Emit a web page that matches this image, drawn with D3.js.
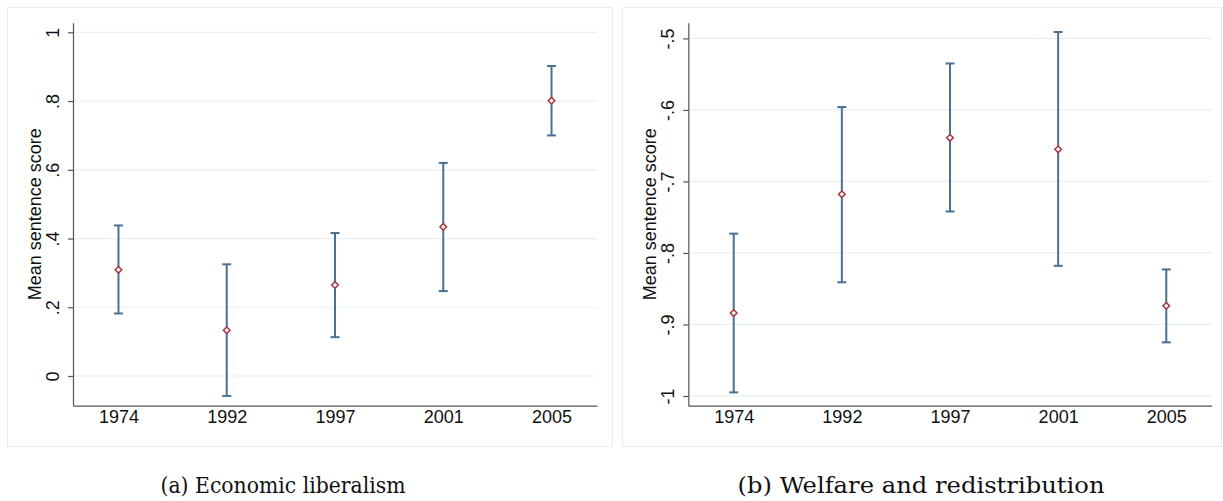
<!DOCTYPE html>
<html>
<head>
<meta charset="utf-8">
<script src="https://cdn.jsdelivr.net/npm/d3@7"></script>
<style>
  body { margin: 0; background: #fff; }
  svg { display: block; }
</style>
</head>
<body>
<script>
// categories and values
var years = ["1974", "1992", "1997", "2001", "2005"];

var econMean = [0.309, 0.133, 0.265, 0.434, 0.801];
var econLow  = [0.182, -0.058, 0.113, 0.247, 0.700];
var econHigh = [0.438, 0.325, 0.416, 0.620, 0.902];
var econTicks = [0, 0.2, 0.4, 0.6, 0.8, 1];
var econLabels = ["0", ".2", ".4", ".6", ".8", "1"];

var welfMean = [-0.884, -0.718, -0.639, -0.655, -0.874];
var welfLow  = [-0.995, -0.841, -0.742, -0.818, -0.925];
var welfHigh = [-0.773, -0.596, -0.535, -0.491, -0.823];
var welfTicks = [-1, -0.9, -0.8, -0.7, -0.6, -0.5];
var welfLabels = ["-1", "-.9", "-.8", "-.7", "-.6", "-.5"];

var captions = ["(a)  Economic liberalism", "(b)  Welfare and redistribution"];

var W = 1223, H = 501;
var barColor = "#4a7095";
var markColor = "#a33a42";
var gridColor = "#e9f0f2";
var sans = "Liberation Sans, Arial, sans-serif";

var svg = d3.select("body").append("svg")
    .attr("width", W)
    .attr("height", H);

function panel(opt) {
    var g = svg.append("g");

    // light outer frame
    g.append("rect")
        .attr("x", opt.box[0] + 0.5)
        .attr("y", 7.5)
        .attr("width", opt.box[1] - opt.box[0])
        .attr("height", 439)
        .attr("fill", "none")
        .attr("stroke", "#e6eef0")
        .attr("stroke-width", 1);

    var x = d3.scaleLinear()
        .domain([0.58, 5.42])
        .range([opt.left, opt.right]);
    var y = d3.scaleLinear()
        .domain(opt.ydom)
        .range([405.7, 22.7]);

    // gridlines
    g.selectAll(".grid")
        .data(opt.ticks)
        .enter()
        .append("line")
        .attr("x1", opt.left)
        .attr("x2", opt.right)
        .attr("y1", d => y(d))
        .attr("y2", d => y(d))
        .attr("stroke", gridColor)
        .attr("stroke-width", 1.2);

    // y axis
    var ya = g.append("g")
        .attr("transform", "translate(" + opt.left + ",0)")
        .call(d3.axisLeft(y).tickValues(opt.ticks).tickFormat((d, i) => opt.labels[i]).tickSize(5).tickSizeOuter(0));
    ya.select(".domain").attr("stroke", "#555").attr("stroke-width", 1.2);
    ya.selectAll(".tick line").attr("stroke", "#555").attr("stroke-width", 1.2);
    ya.selectAll(".tick text")
        .attr("x", 0).attr("dy", 0)
        .attr("transform", "translate(-20,0) rotate(-90)")
        .attr("text-anchor", "middle")
        .attr("dominant-baseline", "central")
        .style("font-family", sans)
        .style("font-size", "18px")
        .attr("fill", "#111");

    // x axis, labels only
    var xa = g.append("g")
        .attr("transform", "translate(0,405.7)")
        .call(d3.axisBottom(x).tickValues([1, 2, 3, 4, 5]).tickFormat((d, i) => years[i]).tickSize(0).tickSizeOuter(0));
    xa.select(".domain").attr("stroke", "#555").attr("stroke-width", 1.2);
    xa.selectAll(".tick text")
        .attr("y", 5)
        .attr("dy", "0.71em")
        .style("font-family", sans)
        .style("font-size", "18px")
        .attr("fill", "#111");

    // axis title
    g.append("text")
        .attr("transform", "translate(" + (opt.left - 38) + "," + y((opt.ydom[0] + opt.ydom[1]) / 2) + ") rotate(-90)")
        .attr("text-anchor", "middle")
        .attr("dominant-baseline", "central")
        .style("font-family", sans)
        .style("font-size", "18px")
        .attr("fill", "#111")
        .text("Mean sentence score");

    // error bars
    var eb = g.selectAll(".eb")
        .data(years)
        .enter()
        .append("g");
    eb.append("line")
        .attr("x1", (d, i) => x(i + 1))
        .attr("x2", (d, i) => x(i + 1))
        .attr("y1", (d, i) => y(opt.low[i]))
        .attr("y2", (d, i) => y(opt.high[i]))
        .attr("stroke", barColor)
        .attr("stroke-width", 2);
    eb.append("line")
        .attr("x1", (d, i) => x(i + 1) - 4.5)
        .attr("x2", (d, i) => x(i + 1) + 4.5)
        .attr("y1", (d, i) => y(opt.low[i]))
        .attr("y2", (d, i) => y(opt.low[i]))
        .attr("stroke", barColor)
        .attr("stroke-width", 2);
    eb.append("line")
        .attr("x1", (d, i) => x(i + 1) - 4.5)
        .attr("x2", (d, i) => x(i + 1) + 4.5)
        .attr("y1", (d, i) => y(opt.high[i]))
        .attr("y2", (d, i) => y(opt.high[i]))
        .attr("stroke", barColor)
        .attr("stroke-width", 2);

    // hollow diamonds for the means
    g.selectAll(".pt")
        .data(opt.mean)
        .enter()
        .append("path")
        .attr("d", d3.symbol().type(d3.symbolDiamond2).size(28))
        .attr("transform", (d, i) => "translate(" + x(i + 1) + "," + y(d) + ")")
        .attr("fill", "#f4f7fa")
        .attr("stroke", markColor)
        .attr("stroke-width", 1.5);

    // caption
    svg.append("text")
        .attr("x", opt.capX)
        .attr("y", 493)
        .attr("text-anchor", "middle")
        .attr("textLength", opt.capW)
        .attr("lengthAdjust", "spacingAndGlyphs")
        .style("font-family", "DejaVu Serif, serif")
        .style("font-size", "22.5px")
        .attr("fill", "#111")
        .text(opt.caption);
}

panel({
    box: [7, 612], left: 73, right: 597,
    ydom: [-0.0864, 1.028], ticks: econTicks, labels: econLabels,
    mean: econMean, low: econLow, high: econHigh,
    caption: captions[0], capX: 283, capW: 245
});

panel({
    box: [622, 1221], left: 688.3, right: 1211.7,
    ydom: [-1.0136, -0.478], ticks: welfTicks, labels: welfLabels,
    mean: welfMean, low: welfLow, high: welfHigh,
    caption: captions[1], capX: 921, capW: 367
});
</script>
</body>
</html>
